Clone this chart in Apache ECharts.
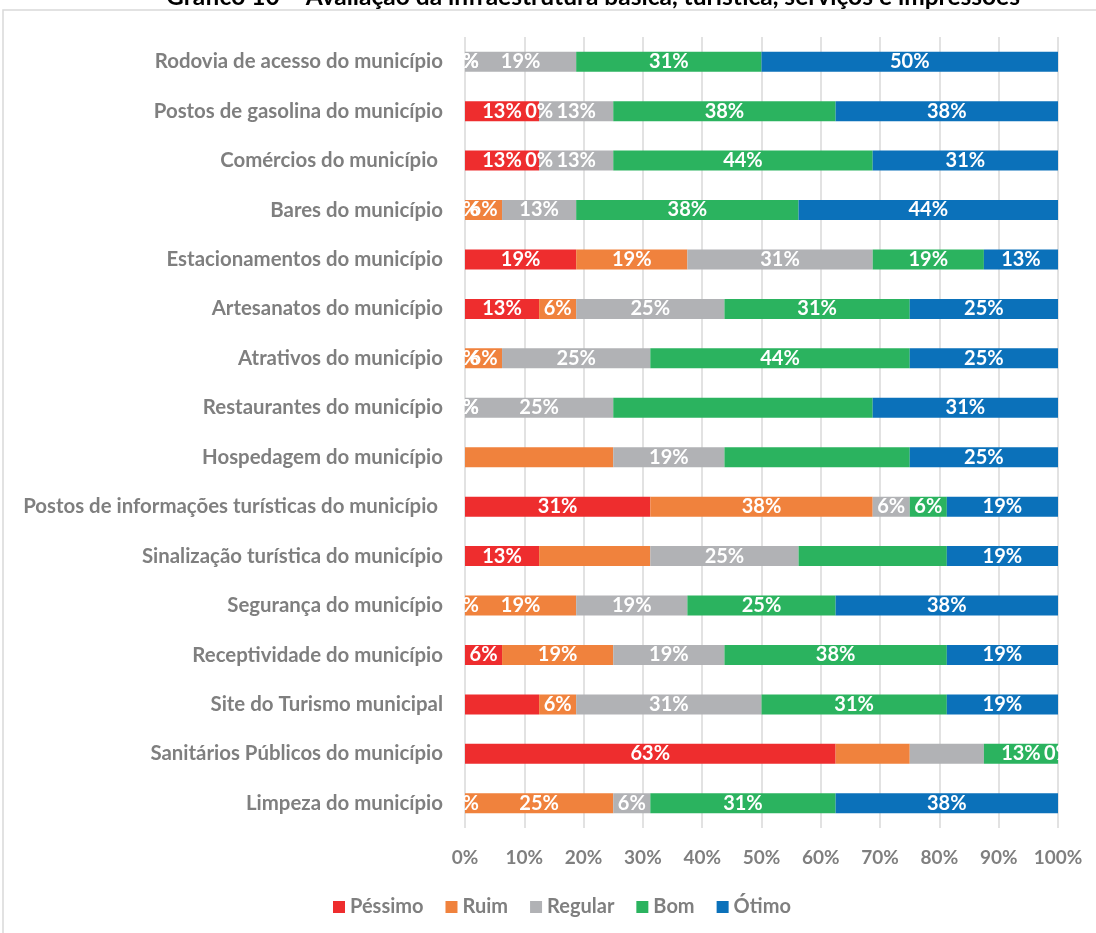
<!DOCTYPE html>
<html>
<head>
<meta charset="utf-8">
<script src="https://cdn.jsdelivr.net/npm/echarts@6/dist/echarts.min.js"></script>
<style>
  html, body { margin: 0; padding: 0; background: #fff; }
  #chart { width: 1096px; height: 933px; }
</style>
</head>
<body>
<div id="chart"></div>
<script>
// Items evaluated, listed top to bottom
const categories = [
  'Rodovia de acesso do município',
  'Postos de gasolina do município',
  'Comércios do município ',
  'Bares do município',
  'Estacionamentos do município',
  'Artesanatos do município',
  'Atrativos do município',
  'Restaurantes do município',
  'Hospedagem do município',
  'Postos de informações turísticas do município ',
  'Sinalização turística do município',
  'Segurança do município',
  'Receptividade do município',
  'Site do Turismo municipal',
  'Sanitários Públicos do município',
  'Limpeza do município'
];

// Share of answers (%) for each rating, same order as categories
const pessimo = [0, 12.5, 12.5, 0, 18.75, 12.5, 0, 0, 0, 31.25, 12.5, 0, 6.25, 12.5, 62.5, 0];
const ruim    = [0, 0, 0, 6.25, 18.75, 6.25, 6.25, 0, 25, 37.5, 18.75, 18.75, 18.75, 6.25, 12.5, 25];
const regular = [18.75, 12.5, 12.5, 12.5, 31.25, 25, 25, 25, 18.75, 6.25, 25, 18.75, 18.75, 31.25, 12.5, 6.25];
const bom     = [31.25, 37.5, 43.75, 37.5, 18.75, 31.25, 43.75, 43.75, 31.25, 6.25, 25, 25, 37.5, 31.25, 12.5, 31.25];
const otimo   = [50, 37.5, 31.25, 43.75, 12.5, 25, 25, 31.25, 25, 18.75, 18.75, 37.5, 18.75, 18.75, 0, 37.5];

const xTicks = ['0%', '10%', '20%', '30%', '40%', '50%', '60%', '70%', '80%', '90%', '100%'];

// Segments that carry no value label (row indices)
const unlabeled = {
  'Péssimo': [8, 13],
  'Ruim': [8, 10, 14],
  'Regular': [14],
  'Bom': [7, 8, 10],
  'Ótimo': []
};

const seriesDefs = [
  { name: 'Péssimo', values: pessimo, color: '#EE2D2E' },
  { name: 'Ruim',    values: ruim,    color: '#F0823D' },
  { name: 'Regular', values: regular, color: '#B1B2B5' },
  { name: 'Bom',     values: bom,     color: '#2BB35F' },
  { name: 'Ótimo',   values: otimo,   color: '#0B71BA' }
];

const FONT = 'Lato';
const GRAY = '#7F7F7F';

const chart = echarts.init(document.getElementById('chart'));

chart.setOption({
  animation: false,
  title: {
    text: 'Gráfico 10 – Avaliação da infraestrutura básica, turística, serviços e impressões',
    left: 588,
    textAlign: 'center',
    top: -20,
    textStyle: { fontFamily: FONT, fontWeight: 'bold', fontSize: 24.5, color: '#000' }
  },
  graphic: [{
    type: 'rect',
    shape: { x: 3, y: 10, width: 1110, height: 940 },
    style: { fill: 'none', stroke: '#D9D9D9', lineWidth: 1.5 },
    silent: true,
    z: -1
  }],
  grid: { left: 465, right: 38, top: 37, bottom: 105 },
  legend: {
    top: 892,
    left: 328,
    itemWidth: 12,
    itemHeight: 12,
    itemGap: 22,
    icon: 'rect',
    textStyle: { fontFamily: FONT, fontWeight: 'bold', fontSize: 20, color: GRAY },
    data: seriesDefs.map(s => s.name)
  },
  xAxis: {
    type: 'value',
    min: 0,
    max: 100,
    interval: 10,
    axisLine: { show: false },
    axisTick: { show: false },
    splitLine: { lineStyle: { color: '#D9D9D9', width: 1.5 } },
    axisLabel: {
      margin: 20,
      fontFamily: FONT, fontWeight: 'bold', fontSize: 19, color: GRAY,
      formatter: v => xTicks[Math.round(v / 10)]
    }
  },
  yAxis: {
    type: 'category',
    inverse: true,
    data: categories,
    axisLine: { show: false },
    axisTick: { show: false },
    axisLabel: {
      margin: 22,
      fontFamily: FONT, fontWeight: 'bold', fontSize: 20.4, color: GRAY
    }
  },
  series: seriesDefs.map(s => ({
    name: s.name,
    type: 'bar',
    stack: 'total',
    barWidth: 20,
    itemStyle: { color: s.color },
    label: {
      show: true,
      position: 'inside',
      fontFamily: FONT, fontWeight: 'bold', fontSize: 20, color: '#fff',
      formatter: p => Math.round(p.value) + '%'
    },
    data: s.values.map((v, i) => unlabeled[s.name].includes(i)
      ? { value: v, label: { show: false } }
      : v)
  }))
});
</script>
</body>
</html>
